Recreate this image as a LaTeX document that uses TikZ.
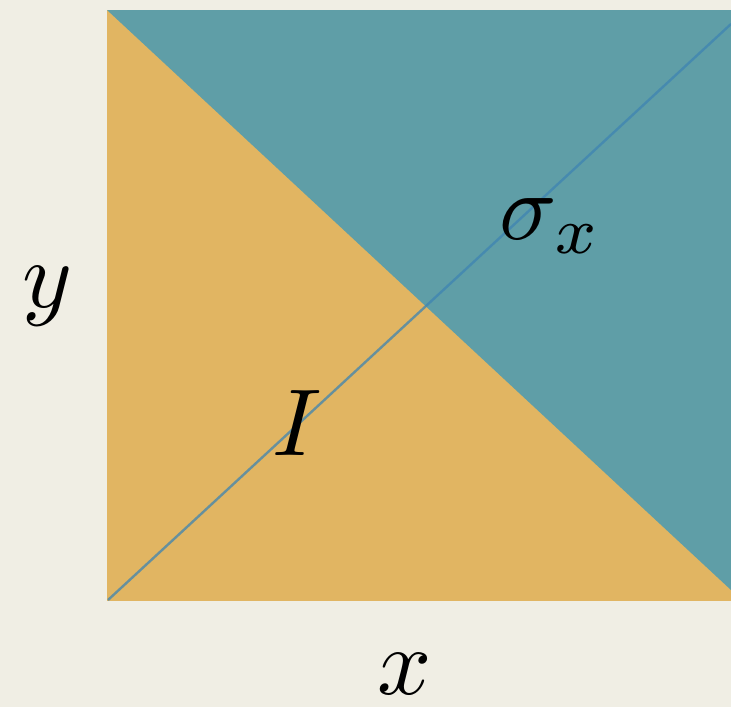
\documentclass[tikz,border=0pt]{standalone}
\definecolor{bgcream}{RGB}{240,238,228}
\definecolor{ochre}{RGB}{225,181,98}
\definecolor{teal}{RGB}{95,158,167}
\definecolor{diagline}{RGB}{62,132,178}
\tikzset{
  lbl/.style={inner sep=0pt, font=\normalsize, scale=9.5},
  diag/.style={draw=diagline, line width=2.4pt, opacity=0.75}
}
\begin{document}
\begin{tikzpicture}[x=1pt,y=-1pt]
\fill[bgcream] (0,0) rectangle (731,707);
\useasboundingbox (0,0) rectangle (731,707);
\coordinate (tl) at (107,10);
\coordinate (tr) at (731,10);
\coordinate (br) at (731,601);
\coordinate (bl) at (107,601);
\coordinate (cut) at (731,590);
\coordinate (d0) at (108,600);
\coordinate (d1) at (731,24);
\fill[ochre] (tl) rectangle (br);
\fill[teal] (tl) -- (tr) -- (cut) -- cycle;
\draw[diag] (d0) -- (d1);
\node[lbl] (ylab) at (47,296) {$y$};
\node[lbl] (xlab) at (405,674) {$x$};
\node[lbl] (ilab) at (297,423) {$I$};
\node[lbl] (slab) at (551,226) {$\sigma_x$};
\end{tikzpicture}
\end{document}
